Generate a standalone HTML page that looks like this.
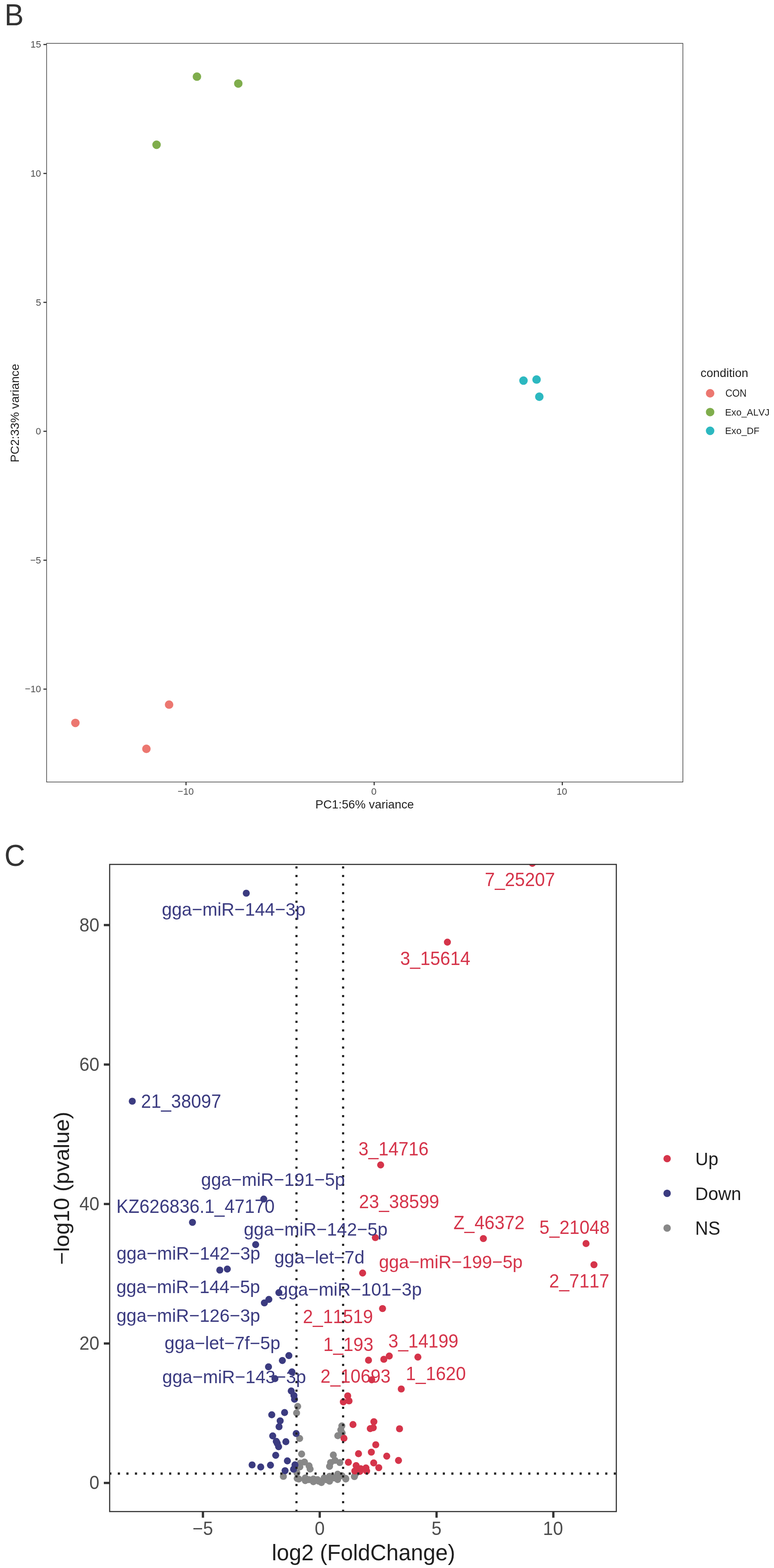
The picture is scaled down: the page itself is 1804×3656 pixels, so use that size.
<!DOCTYPE html>
<html><head><meta charset="utf-8"><title>Figure</title>
<style>html,body{margin:0;padding:0;background:#fff;overflow:hidden}svg{display:block}text{font-family:"Liberation Sans", Arial, sans-serif;font-kerning:none;font-feature-settings:"kern" 0,"liga" 0}</style>
</head><body>
<svg width="1804" height="3656" viewBox="0 0 1804 3656">
<rect width="1804" height="3656" fill="#ffffff"/>
<text transform="translate(10.60,58.90) scale(1,1.04)" font-size="67" fill="#333333">B</text>
<rect x="108.6" y="101.1" width="1483.0" height="1722.3" fill="none" stroke="#333333" stroke-width="1.4"/>
<line x1="101.2" y1="103.8" x2="108.6" y2="103.8" stroke="#333333" stroke-width="2.6"/>
<text transform="translate(71.04,111.40) scale(1,1.03)" font-size="22.2" fill="#4D4D4D">15</text>
<line x1="101.2" y1="404.4" x2="108.6" y2="404.4" stroke="#333333" stroke-width="2.6"/>
<text transform="translate(70.97,412.00) scale(1,1.03)" font-size="22.2" fill="#4D4D4D">10</text>
<line x1="101.2" y1="705.0" x2="108.6" y2="705.0" stroke="#333333" stroke-width="2.6"/>
<text transform="translate(83.39,712.60) scale(1,1.03)" font-size="22.2" fill="#4D4D4D">5</text>
<line x1="101.2" y1="1005.6" x2="108.6" y2="1005.6" stroke="#333333" stroke-width="2.6"/>
<text transform="translate(83.32,1013.20) scale(1,1.03)" font-size="22.2" fill="#4D4D4D">0</text>
<line x1="101.2" y1="1306.2" x2="108.6" y2="1306.2" stroke="#333333" stroke-width="2.6"/>
<text transform="translate(70.42,1313.80) scale(1,1.03)" font-size="22.2" fill="#4D4D4D">−5</text>
<line x1="101.2" y1="1606.8" x2="108.6" y2="1606.8" stroke="#333333" stroke-width="2.6"/>
<text transform="translate(58.01,1614.40) scale(1,1.03)" font-size="22.2" fill="#4D4D4D">−10</text>
<line x1="433.6" y1="1823.4" x2="433.6" y2="1830.9" stroke="#333333" stroke-width="2.6"/>
<text transform="translate(414.06,1852.70) scale(1,1.03)" font-size="22.2" fill="#4D4D4D">−10</text>
<line x1="872.1" y1="1823.4" x2="872.1" y2="1830.9" stroke="#333333" stroke-width="2.6"/>
<text transform="translate(865.33,1852.70) scale(1,1.03)" font-size="22.2" fill="#4D4D4D">0</text>
<line x1="1310.6" y1="1823.4" x2="1310.6" y2="1830.9" stroke="#333333" stroke-width="2.6"/>
<text transform="translate(1297.24,1852.70) scale(1,1.03)" font-size="22.2" fill="#4D4D4D">10</text>
<text transform="translate(734.96,1884.80) scale(1,1.0061538461538462)" font-size="27.75" fill="#1f1f1f">PC1:56% variance</text>
<text transform="translate(43.9,962.7) rotate(-90) scale(1,0.985)" x="-115.4" y="0" font-size="27.75" fill="#1f1f1f">PC2:33% variance</text>
<circle cx="459.0" cy="178.7" r="9.9" fill="#7FAD4C"/>
<circle cx="555.4" cy="194.8" r="9.9" fill="#7FAD4C"/>
<circle cx="364.9" cy="337.5" r="9.9" fill="#7FAD4C"/>
<circle cx="175.7" cy="1685.6" r="9.9" fill="#EC7770"/>
<circle cx="394.1" cy="1642.9" r="9.9" fill="#EC7770"/>
<circle cx="341.2" cy="1746.0" r="9.9" fill="#EC7770"/>
<circle cx="1220.1" cy="887.4" r="9.9" fill="#2CB8C0"/>
<circle cx="1250.6" cy="884.9" r="9.9" fill="#2CB8C0"/>
<circle cx="1257.0" cy="925.0" r="9.9" fill="#2CB8C0"/>
<text transform="translate(1632.82,878.80) scale(1,0.985)" font-size="27.75" fill="#1f1f1f">condition</text>
<circle cx="1655.1" cy="917.0" r="9.9" fill="#EC7770"/>
<text transform="translate(1690.67,924.80) scale(1,1.04)" font-size="22.2" fill="#1f1f1f">CON</text>
<circle cx="1655.1" cy="960.8" r="9.9" fill="#7FAD4C"/>
<text transform="translate(1689.98,968.55) scale(1,1.0242857142857142)" font-size="22.2" fill="#1f1f1f">Exo_ALVJ</text>
<circle cx="1655.1" cy="1004.5" r="9.9" fill="#2CB8C0"/>
<text transform="translate(1689.98,1012.30) scale(1,1.018)" font-size="22.2" fill="#1f1f1f">Exo_DF</text>
<text transform="translate(10.30,2018.90) scale(1,1.04)" font-size="67" fill="#333333">C</text>
<clipPath id="cp"><rect x="255.6" y="2015.5" width="1180.9" height="1508.9"/></clipPath>
<g clip-path="url(#cp)">
<circle cx="693.8" cy="3279.3" r="8.2" fill="#888888"/>
<circle cx="691.3" cy="3294.5" r="8.2" fill="#888888"/>
<circle cx="796.7" cy="3324.7" r="8.2" fill="#888888"/>
<circle cx="794.3" cy="3334.1" r="8.2" fill="#888888"/>
<circle cx="797.5" cy="3341.2" r="8.2" fill="#888888"/>
<circle cx="787.3" cy="3347.5" r="8.2" fill="#888888"/>
<circle cx="698.4" cy="3354.0" r="8.2" fill="#888888"/>
<circle cx="703.0" cy="3390.2" r="8.2" fill="#888888"/>
<circle cx="700.1" cy="3411.4" r="8.2" fill="#888888"/>
<circle cx="709.6" cy="3408.9" r="8.2" fill="#888888"/>
<circle cx="720.3" cy="3417.7" r="8.2" fill="#888888"/>
<circle cx="722.8" cy="3425.2" r="8.2" fill="#888888"/>
<circle cx="698.9" cy="3420.2" r="8.2" fill="#888888"/>
<circle cx="692.0" cy="3434.1" r="8.2" fill="#888888"/>
<circle cx="696.4" cy="3448.5" r="8.2" fill="#888888"/>
<circle cx="711.5" cy="3446.0" r="8.2" fill="#888888"/>
<circle cx="730.4" cy="3448.5" r="8.2" fill="#888888"/>
<circle cx="742.9" cy="3453.6" r="8.2" fill="#888888"/>
<circle cx="755.5" cy="3446.0" r="8.2" fill="#888888"/>
<circle cx="768.1" cy="3442.2" r="8.2" fill="#888888"/>
<circle cx="787.0" cy="3437.2" r="8.2" fill="#888888"/>
<circle cx="797.1" cy="3441.0" r="8.2" fill="#888888"/>
<circle cx="805.9" cy="3448.5" r="8.2" fill="#888888"/>
<circle cx="692.6" cy="3447.3" r="8.2" fill="#888888"/>
<circle cx="711.5" cy="3452.3" r="8.2" fill="#888888"/>
<circle cx="730.4" cy="3454.8" r="8.2" fill="#888888"/>
<circle cx="749.2" cy="3456.7" r="8.2" fill="#888888"/>
<circle cx="768.1" cy="3453.6" r="8.2" fill="#888888"/>
<circle cx="787.0" cy="3449.8" r="8.2" fill="#888888"/>
<circle cx="805.9" cy="3447.3" r="8.2" fill="#888888"/>
<circle cx="720.0" cy="3450.0" r="8.2" fill="#888888"/>
<circle cx="760.0" cy="3450.0" r="8.2" fill="#888888"/>
<circle cx="778.0" cy="3446.0" r="8.2" fill="#888888"/>
<circle cx="740.0" cy="3450.0" r="8.2" fill="#888888"/>
<circle cx="776.9" cy="3392.5" r="8.2" fill="#888888"/>
<circle cx="768.1" cy="3419.0" r="8.2" fill="#888888"/>
<circle cx="770.6" cy="3410.1" r="8.2" fill="#888888"/>
<circle cx="780.7" cy="3405.1" r="8.2" fill="#888888"/>
<circle cx="792.0" cy="3410.1" r="8.2" fill="#888888"/>
<circle cx="826.0" cy="3442.9" r="8.2" fill="#888888"/>
<circle cx="828.5" cy="3436.6" r="8.2" fill="#888888"/>
<circle cx="660.5" cy="3442.4" r="8.2" fill="#888888"/>
<circle cx="574.0" cy="2082.6" r="8.2" fill="#3B3B80"/>
<circle cx="308.3" cy="2567.6" r="8.2" fill="#3B3B80"/>
<circle cx="614.7" cy="2795.8" r="8.2" fill="#3B3B80"/>
<circle cx="448.6" cy="2850.1" r="8.2" fill="#3B3B80"/>
<circle cx="595.9" cy="2902.0" r="8.2" fill="#3B3B80"/>
<circle cx="512.3" cy="2961.4" r="8.2" fill="#3B3B80"/>
<circle cx="529.8" cy="2959.0" r="8.2" fill="#3B3B80"/>
<circle cx="650.0" cy="3014.0" r="8.2" fill="#3B3B80"/>
<circle cx="626.6" cy="3029.8" r="8.2" fill="#3B3B80"/>
<circle cx="616.2" cy="3037.9" r="8.2" fill="#3B3B80"/>
<circle cx="673.3" cy="3160.7" r="8.2" fill="#3B3B80"/>
<circle cx="658.1" cy="3172.3" r="8.2" fill="#3B3B80"/>
<circle cx="625.8" cy="3187.0" r="8.2" fill="#3B3B80"/>
<circle cx="680.4" cy="3198.8" r="8.2" fill="#3B3B80"/>
<circle cx="640.8" cy="3214.5" r="8.2" fill="#3B3B80"/>
<circle cx="678.8" cy="3243.2" r="8.2" fill="#3B3B80"/>
<circle cx="685.1" cy="3253.9" r="8.2" fill="#3B3B80"/>
<circle cx="686.4" cy="3262.5" r="8.2" fill="#3B3B80"/>
<circle cx="663.3" cy="3293.5" r="8.2" fill="#3B3B80"/>
<circle cx="633.4" cy="3298.7" r="8.2" fill="#3B3B80"/>
<circle cx="653.0" cy="3312.9" r="8.2" fill="#3B3B80"/>
<circle cx="650.4" cy="3326.6" r="8.2" fill="#3B3B80"/>
<circle cx="690.3" cy="3342.5" r="8.2" fill="#3B3B80"/>
<circle cx="635.6" cy="3348.0" r="8.2" fill="#3B3B80"/>
<circle cx="643.9" cy="3360.7" r="8.2" fill="#3B3B80"/>
<circle cx="646.3" cy="3365.4" r="8.2" fill="#3B3B80"/>
<circle cx="649.4" cy="3373.3" r="8.2" fill="#3B3B80"/>
<circle cx="666.3" cy="3361.5" r="8.2" fill="#3B3B80"/>
<circle cx="642.6" cy="3393.2" r="8.2" fill="#3B3B80"/>
<circle cx="669.8" cy="3406.2" r="8.2" fill="#3B3B80"/>
<circle cx="587.6" cy="3415.6" r="8.2" fill="#3B3B80"/>
<circle cx="607.7" cy="3420.5" r="8.2" fill="#3B3B80"/>
<circle cx="630.4" cy="3416.2" r="8.2" fill="#3B3B80"/>
<circle cx="687.5" cy="3415.5" r="8.2" fill="#3B3B80"/>
<circle cx="684.2" cy="3425.6" r="8.2" fill="#3B3B80"/>
<circle cx="664.4" cy="3429.1" r="8.2" fill="#3B3B80"/>
<circle cx="1240.8" cy="2013.0" r="8.2" fill="#D5344A"/>
<circle cx="1042.8" cy="2196.8" r="8.2" fill="#D5344A"/>
<circle cx="887.2" cy="2716.3" r="8.2" fill="#D5344A"/>
<circle cx="874.8" cy="2885.6" r="8.2" fill="#D5344A"/>
<circle cx="1126.6" cy="2887.9" r="8.2" fill="#D5344A"/>
<circle cx="1365.9" cy="2899.5" r="8.2" fill="#D5344A"/>
<circle cx="1384.4" cy="2948.9" r="8.2" fill="#D5344A"/>
<circle cx="845.2" cy="2968.3" r="8.2" fill="#D5344A"/>
<circle cx="891.6" cy="3051.1" r="8.2" fill="#D5344A"/>
<circle cx="858.9" cy="3171.5" r="8.2" fill="#D5344A"/>
<circle cx="894.6" cy="3169.4" r="8.2" fill="#D5344A"/>
<circle cx="907.3" cy="3161.8" r="8.2" fill="#D5344A"/>
<circle cx="974.0" cy="3164.2" r="8.2" fill="#D5344A"/>
<circle cx="866.4" cy="3217.3" r="8.2" fill="#D5344A"/>
<circle cx="935.2" cy="3238.6" r="8.2" fill="#D5344A"/>
<circle cx="810.4" cy="3254.6" r="8.2" fill="#D5344A"/>
<circle cx="813.5" cy="3266.4" r="8.2" fill="#D5344A"/>
<circle cx="800.2" cy="3268.8" r="8.2" fill="#D5344A"/>
<circle cx="822.7" cy="3321.5" r="8.2" fill="#D5344A"/>
<circle cx="871.4" cy="3314.9" r="8.2" fill="#D5344A"/>
<circle cx="870.0" cy="3329.0" r="8.2" fill="#D5344A"/>
<circle cx="863.0" cy="3331.0" r="8.2" fill="#D5344A"/>
<circle cx="931.2" cy="3331.4" r="8.2" fill="#D5344A"/>
<circle cx="801.7" cy="3353.5" r="8.2" fill="#D5344A"/>
<circle cx="875.8" cy="3368.6" r="8.2" fill="#D5344A"/>
<circle cx="865.5" cy="3385.9" r="8.2" fill="#D5344A"/>
<circle cx="835.6" cy="3389.5" r="8.2" fill="#D5344A"/>
<circle cx="901.4" cy="3395.3" r="8.2" fill="#D5344A"/>
<circle cx="928.8" cy="3405.2" r="8.2" fill="#D5344A"/>
<circle cx="812.0" cy="3409.5" r="8.2" fill="#D5344A"/>
<circle cx="830.1" cy="3417.3" r="8.2" fill="#D5344A"/>
<circle cx="871.0" cy="3411.0" r="8.2" fill="#D5344A"/>
<circle cx="882.8" cy="3422.1" r="8.2" fill="#D5344A"/>
<circle cx="852.9" cy="3422.8" r="8.2" fill="#D5344A"/>
<circle cx="840.4" cy="3424.4" r="8.2" fill="#D5344A"/>
<circle cx="827.0" cy="3429.9" r="8.2" fill="#D5344A"/>
<circle cx="854.5" cy="3429.9" r="8.2" fill="#D5344A"/>
<circle cx="838.8" cy="3430.7" r="8.2" fill="#D5344A"/>
<line x1="691.0" y1="2000" x2="691.0" y2="3540" stroke="#222222" stroke-width="5" stroke-dasharray="5 15"/>
<line x1="799.7" y1="2000" x2="799.7" y2="3540" stroke="#222222" stroke-width="5" stroke-dasharray="5 15"/>
<line x1="234.75" y1="3435.9" x2="1460" y2="3435.9" stroke="#222222" stroke-width="5.2" stroke-dasharray="4.98 14.95"/>
<text transform="translate(1130.05,2065.70) scale(1,1.04)" font-size="42" fill="#D5344A">7_25207</text>
<text transform="translate(377.14,2135.10) scale(1,1.01)" font-size="42" fill="#3B3B80">gga−miR−144−3p</text>
<text transform="translate(932.70,2249.70) scale(1,1.04)" font-size="42" fill="#D5344A">3_15614</text>
<text transform="translate(328.79,2583.20) scale(1,1.04)" font-size="42" fill="#3B3B80">21_38097</text>
<text transform="translate(835.44,2693.80) scale(1,1.04)" font-size="42" fill="#D5344A">3_14716</text>
<text transform="translate(468.84,2764.60) scale(1,1.01)" font-size="42" fill="#3B3B80">gga−miR−191−5p</text>
<text transform="translate(836.82,2817.30) scale(1,1.04)" font-size="42" fill="#D5344A">23_38599</text>
<text transform="translate(271.35,2828.30) scale(1,1.04)" font-size="42" fill="#3B3B80">KZ626836.1_47170</text>
<text transform="translate(568.24,2881.00) scale(1,1.01)" font-size="42" fill="#3B3B80">gga−miR−142−5p</text>
<text transform="translate(1056.97,2866.40) scale(1,1.04)" font-size="42" fill="#D5344A">Z_46372</text>
<text transform="translate(1257.32,2877.40) scale(1,1.04)" font-size="42" fill="#D5344A">5_21048</text>
<text transform="translate(271.64,2936.80) scale(1,1.01)" font-size="42" fill="#3B3B80">gga−miR−142−3p</text>
<text transform="translate(639.44,2945.90) scale(1,0.991875)" font-size="42" fill="#3B3B80">gga−let−7d</text>
<text transform="translate(883.14,2957.10) scale(1,1.01)" font-size="42" fill="#D5344A">gga−miR−199−5p</text>
<text transform="translate(1280.09,3001.95) scale(1,1.04)" font-size="42" fill="#D5344A">2_7117</text>
<text transform="translate(271.14,3015.20) scale(1,1.01)" font-size="42" fill="#3B3B80">gga−miR−144−5p</text>
<text transform="translate(648.04,3020.70) scale(1,1.01)" font-size="42" fill="#3B3B80">gga−miR−101−3p</text>
<text transform="translate(271.44,3082.30) scale(1,1.01)" font-size="42" fill="#3B3B80">gga−miR−126−3p</text>
<text transform="translate(705.99,3084.90) scale(1,1.04)" font-size="42" fill="#D5344A">2_11519</text>
<text transform="translate(383.54,3146.00) scale(1,0.9960000000000001)" font-size="42" fill="#3B3B80">gga−let−7f−5p</text>
<text transform="translate(753.50,3149.70) scale(1,1.04)" font-size="42" fill="#D5344A">1_193</text>
<text transform="translate(904.90,3141.75) scale(1,1.04)" font-size="42" fill="#D5344A">3_14199</text>
<text transform="translate(378.34,3225.20) scale(1,1.01)" font-size="42" fill="#3B3B80">gga−miR−143−3p</text>
<text transform="translate(746.99,3224.00) scale(1,1.04)" font-size="42" fill="#D5344A">2_10693</text>
<text transform="translate(945.70,3217.80) scale(1,1.04)" font-size="42" fill="#D5344A">1_1620</text>
</g>
<rect x="255.6" y="2015.5" width="1180.9" height="1508.9" fill="none" stroke="#333333" stroke-width="2.6"/>
<line x1="242.0" y1="3457.7" x2="255.6" y2="3457.7" stroke="#333333" stroke-width="5.3"/>
<text transform="translate(208.28,3472.40) scale(1,1.04)" font-size="42" fill="#4D4D4D">0</text>
<line x1="242.0" y1="3132.5" x2="255.6" y2="3132.5" stroke="#333333" stroke-width="5.3"/>
<text transform="translate(184.92,3147.20) scale(1,1.04)" font-size="42" fill="#4D4D4D">20</text>
<line x1="242.0" y1="2807.3" x2="255.6" y2="2807.3" stroke="#333333" stroke-width="5.3"/>
<text transform="translate(184.92,2822.00) scale(1,1.04)" font-size="42" fill="#4D4D4D">40</text>
<line x1="242.0" y1="2482.1" x2="255.6" y2="2482.1" stroke="#333333" stroke-width="5.3"/>
<text transform="translate(184.92,2496.80) scale(1,1.04)" font-size="42" fill="#4D4D4D">60</text>
<line x1="242.0" y1="2156.9" x2="255.6" y2="2156.9" stroke="#333333" stroke-width="5.3"/>
<text transform="translate(184.92,2171.60) scale(1,1.04)" font-size="42" fill="#4D4D4D">80</text>
<line x1="473.0" y1="3524.4" x2="473.0" y2="3538.7" stroke="#333333" stroke-width="5.3"/>
<text transform="translate(448.85,3578.60) scale(1,1.04)" font-size="42" fill="#4D4D4D">−5</text>
<line x1="745.2" y1="3524.4" x2="745.2" y2="3538.7" stroke="#333333" stroke-width="5.3"/>
<text transform="translate(733.52,3578.60) scale(1,1.04)" font-size="42" fill="#4D4D4D">0</text>
<line x1="1017.5" y1="3524.4" x2="1017.5" y2="3538.7" stroke="#333333" stroke-width="5.3"/>
<text transform="translate(1005.81,3578.60) scale(1,1.04)" font-size="42" fill="#4D4D4D">5</text>
<line x1="1289.7" y1="3524.4" x2="1289.7" y2="3538.7" stroke="#333333" stroke-width="5.3"/>
<text transform="translate(1265.56,3578.60) scale(1,1.04)" font-size="42" fill="#4D4D4D">10</text>
<text transform="translate(633.57,3638.00) scale(1,0.9967857142857142)" font-size="51.6" fill="#1f1f1f">log2 (FoldChange)</text>
<text transform="translate(160.5,2770.9) rotate(-90) scale(1,0.985)" x="-178.2" y="0" font-size="51.6" fill="#1f1f1f">−log10 (pvalue)</text>
<circle cx="1554.9" cy="2701.5" r="8.6" fill="#D5344A"/>
<text transform="translate(1620.56,2717.10) scale(1,1.0125)" font-size="42" fill="#1f1f1f">Up</text>
<circle cx="1554.9" cy="2782.4" r="8.6" fill="#3B3B80"/>
<text transform="translate(1620.35,2798.05) scale(1,0.99875)" font-size="42" fill="#1f1f1f">Down</text>
<circle cx="1554.9" cy="2863.4" r="8.6" fill="#888888"/>
<text transform="translate(1620.35,2879.00) scale(1,1.04)" font-size="42" fill="#1f1f1f">NS</text>
</svg>
</body></html>
